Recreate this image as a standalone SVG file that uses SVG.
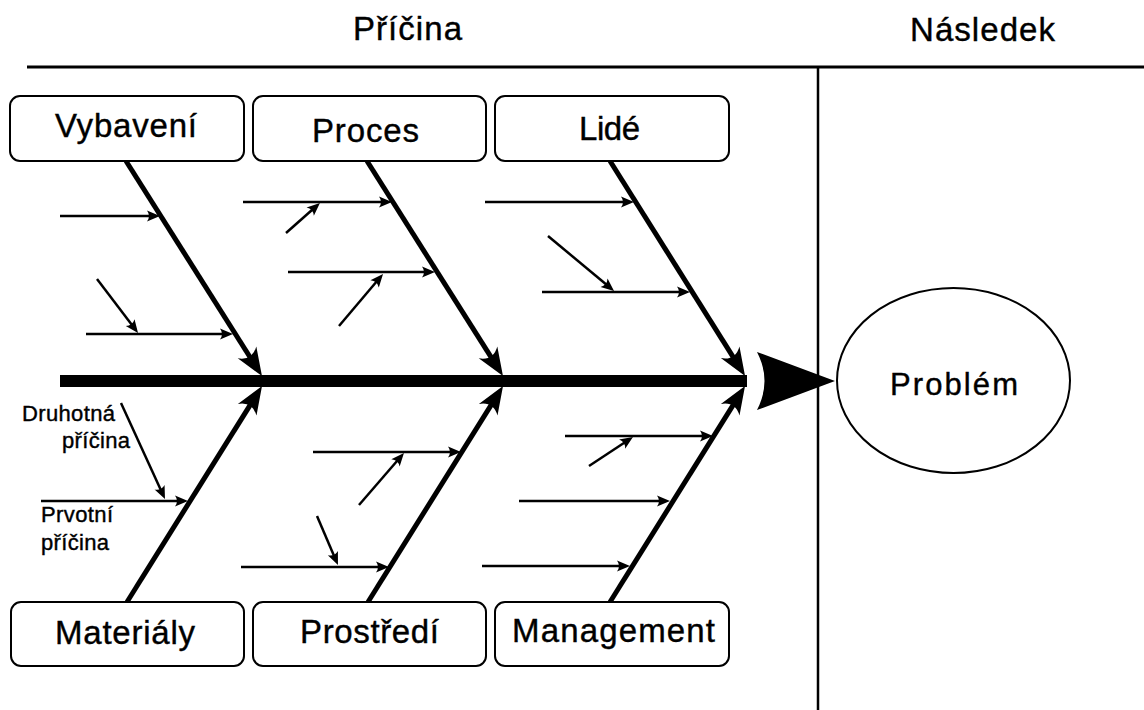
<svg xmlns="http://www.w3.org/2000/svg" width="1144" height="710" viewBox="0 0 1144 710">
<style>
.box{fill:#fff;stroke:#000;stroke-width:2}
.t{font-family:"Liberation Sans",Arial,sans-serif;fill:#000;stroke:#000;stroke-width:0.4}
.big{font-size:33px}
.small{font-size:22px}
.bone{stroke:#000;stroke-width:5;fill:none;marker-end:url(#mb)}
.sub{stroke:#000;stroke-width:2.5;fill:none;marker-end:url(#ms)}
.frame{stroke:#000;fill:none}
</style>
<defs>
<marker id="mb" viewBox="-30 -13 32 26" markerWidth="32" markerHeight="26" refX="-14" refY="0" orient="auto" markerUnits="userSpaceOnUse">
<path d="M0,0 L-28,-11 Q-18,0 -28,11 Z" fill="#000"/>
</marker>
<marker id="ms" viewBox="-15 -7 17 14" markerWidth="17" markerHeight="14" refX="-5" refY="0" orient="auto" markerUnits="userSpaceOnUse">
<path d="M0,0 L-13,-5.5 Q-9,0 -13,5.5 Z" fill="#000"/>
</marker>
</defs>
<rect width="1144" height="710" fill="#fff"/>
<g id="frame">
<line class="frame" x1="27" y1="67" x2="1144" y2="67" stroke-width="3"/>
<line class="frame" x1="818" y1="67" x2="818" y2="710" stroke-width="2.5"/>
<text class="t big" x="353" y="40" textLength="109" lengthAdjust="spacing">Příčina</text>
<text class="t big" x="910" y="41" textLength="145" lengthAdjust="spacing">Následek</text>
</g>
<g id="connectors">
<line x1="60" y1="381" x2="747" y2="381" stroke="#000" stroke-width="12"/>
<path d="M835,381 L757,352 Q772,381 757,410 Z" fill="#000"/>
<line class="bone" x1="126" y1="161" x2="254.5" y2="364.2"/>
<line class="bone" x1="367" y1="161" x2="495.5" y2="364.2"/>
<line class="bone" x1="610" y1="161" x2="737.6" y2="364.1"/>
<line class="bone" x1="127" y1="602" x2="254.6" y2="397.9"/>
<line class="bone" x1="368" y1="602" x2="495.6" y2="397.9"/>
<line class="bone" x1="610" y1="602" x2="737.6" y2="397.9"/>
<line class="sub" x1="60" y1="216" x2="155" y2="216"/>
<line class="sub" x1="86" y1="334" x2="228" y2="334"/>
<line class="sub" x1="97" y1="279" x2="135" y2="329"/>
<line class="sub" x1="243" y1="202" x2="387" y2="202"/>
<line class="sub" x1="286" y1="233" x2="316.2" y2="206.3"/>
<line class="sub" x1="288" y1="272" x2="430" y2="272"/>
<line class="sub" x1="339" y1="326" x2="379.8" y2="277.8"/>
<line class="sub" x1="485" y1="202" x2="629" y2="202"/>
<line class="sub" x1="548" y1="236" x2="610.2" y2="287.8"/>
<line class="sub" x1="542" y1="292" x2="685" y2="292"/>
<line class="sub" x1="41" y1="501" x2="183" y2="501"/>
<line class="sub" x1="121" y1="403" x2="162.9" y2="494.5"/>
<line class="sub" x1="313" y1="452" x2="456" y2="452"/>
<line class="sub" x1="359" y1="505" x2="400.7" y2="456.8"/>
<line class="sub" x1="241" y1="567" x2="384" y2="567"/>
<line class="sub" x1="317" y1="516" x2="336" y2="560.4"/>
<line class="sub" x1="565" y1="436" x2="708" y2="436"/>
<line class="sub" x1="589" y1="466" x2="628.8" y2="439.8"/>
<line class="sub" x1="519" y1="501" x2="665" y2="501"/>
<line class="sub" x1="482" y1="566" x2="625" y2="566"/>
</g>
<g id="labels">
<text class="t small" x="22" y="421" textLength="93" lengthAdjust="spacing">Druhotná</text>
<text class="t small" x="62" y="448" textLength="68" lengthAdjust="spacing">příčina</text>
<text class="t small" x="41" y="522" textLength="72" lengthAdjust="spacing">Prvotní</text>
<text class="t small" x="41" y="550" textLength="68" lengthAdjust="spacing">příčina</text>
</g>
<g id="vybaveni">
<rect class="box" x="10" y="96" width="234" height="65" rx="10"/>
<text class="t big" x="55" y="137" textLength="142" lengthAdjust="spacing">Vybavení</text>
</g>
<g id="proces">
<rect class="box" x="253" y="96" width="233" height="65" rx="10"/>
<text class="t big" x="312" y="142" textLength="107" lengthAdjust="spacing">Proces</text>
</g>
<g id="lide">
<rect class="box" x="495" y="96" width="234" height="65" rx="10"/>
<text class="t big" x="579" y="140" textLength="61" lengthAdjust="spacing">Lidé</text>
</g>
<g id="materialy">
<rect class="box" x="11" y="602" width="233" height="64" rx="10"/>
<text class="t big" x="55" y="644" textLength="140" lengthAdjust="spacing">Materiály</text>
</g>
<g id="prostredi">
<rect class="box" x="253" y="602" width="233" height="64" rx="10"/>
<text class="t big" x="300" y="643" textLength="139" lengthAdjust="spacing">Prostředí</text>
</g>
<g id="management">
<rect class="box" x="495" y="602" width="234" height="64" rx="10"/>
<text class="t big" x="512" y="642" textLength="203" lengthAdjust="spacing">Management</text>
</g>
<g id="problem">
<ellipse cx="953.5" cy="380.5" rx="116.5" ry="92.5" fill="#fff" stroke="#000" stroke-width="2"/>
<text class="t" x="890" y="395" font-size="31" textLength="128" lengthAdjust="spacing">Problém</text>
</g>
</svg>
